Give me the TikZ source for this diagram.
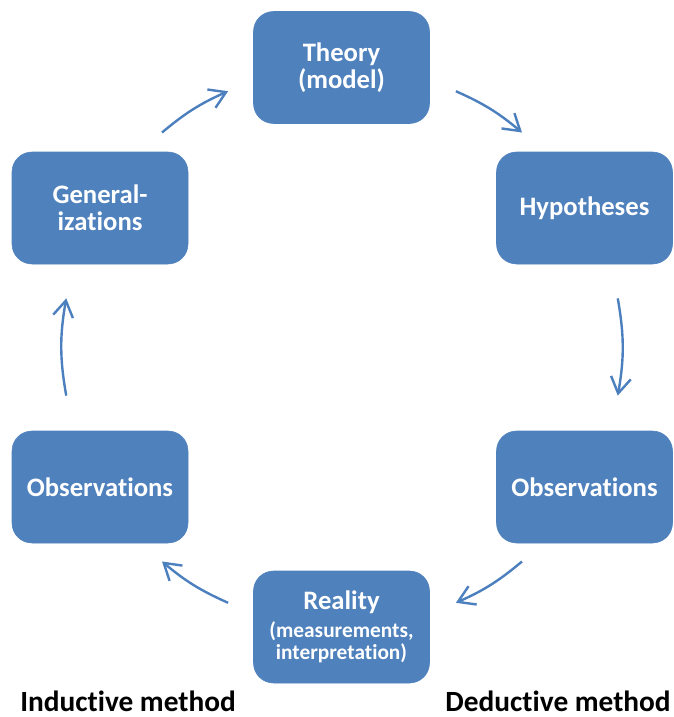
\documentclass[tikz,border=0pt]{standalone}
\usepackage{fontspec}
\setmainfont{Carlito}[Ligatures=NoCommon]
\usepackage{xcolor}
\usetikzlibrary{arrows.meta,positioning,calc}
\definecolor{boxblue}{RGB}{79,129,189}
\definecolor{arrowblue}{RGB}{76,127,190}

\tikzset{
  stage/.style={draw=boxblue,fill=boxblue,rounded corners=15pt,
    minimum width=132pt,minimum height=84pt,inner sep=0pt,
    text=white,align=center,font=\bfseries\fontsize{20}{20}\selectfont},
  cyc/.style={-{Straight Barb[length=12pt,width=15pt]},line width=1.8pt,arrowblue},
  method/.style={inner sep=0pt,font=\bfseries\fontsize{22}{24}\selectfont}
}
\newcommand{\subtxt}{\fontsize{16}{16}\selectfont}

\begin{document}
\begin{tikzpicture}[x=0.75pt,y=-0.75pt]
\useasboundingbox (0,0) rectangle (674,717);

% boxes, clockwise from the top
\node[stage] (theory) at (341.5,67.5) {Theory\\(model)};
\node[stage] (hyp)    at (584.5,208)  {Hypotheses};
\node[stage] (obsr)   at (584.5,487)  {Observations};
\node[stage] (real)   at (341.5,627)  {Reality\\[0.5pt]{\subtxt (measurements,}\\[-3pt]{\subtxt interpretation)}};
\node[stage] (obsl)   at (100,487)    {Observations};
\node[stage] (gen)    at (100,208)    {General-\\izations};

% arrow ends sit on one circle round the middle
\coordinate (c) at (342,347);
\coordinate (gen-out)  at ($(c)+(130:210pt)$);
\coordinate (thy-in)   at ($(c)+(114:210pt)$);
\coordinate (thy-out)  at ($(c)+(66:210pt)$);
\coordinate (hyp-in)   at ($(c)+(50:210pt)$);
\coordinate (hyp-out)  at ($(c)+(10:210pt)$);
\coordinate (obsr-in)  at ($(c)+(-10:210pt)$);
\coordinate (obsr-out) at ($(c)+(-50:210pt)$);
\coordinate (real-in)  at ($(c)+(-66:210pt)$);
\coordinate (real-out) at ($(c)+(-114:210pt)$);
\coordinate (obsl-in)  at ($(c)+(-130:210pt)$);
\coordinate (obsl-out) at ($(c)+(190:210pt)$);
\coordinate (gen-in)   at ($(c)+(170:210pt)$);

\draw[cyc] (gen-out)  to[bend left=8]  (thy-in);
\draw[cyc] (thy-out)  to[bend left=8]  (hyp-in);
\draw[cyc] (hyp-out)  to[bend left=10] (obsr-in);
\draw[cyc] (obsr-out) to[bend left=8]  (real-in);
\draw[cyc] (real-out) to[bend left=8]  (obsl-in);
\draw[cyc] (obsl-out) to[bend left=10] (gen-in);

% method labels
\node[method,anchor=base west] (ind) at (20,711)  {Inductive method};
\node[method,anchor=base east] (ded) at (671,711) {Deductive method};
\end{tikzpicture}
\end{document}
